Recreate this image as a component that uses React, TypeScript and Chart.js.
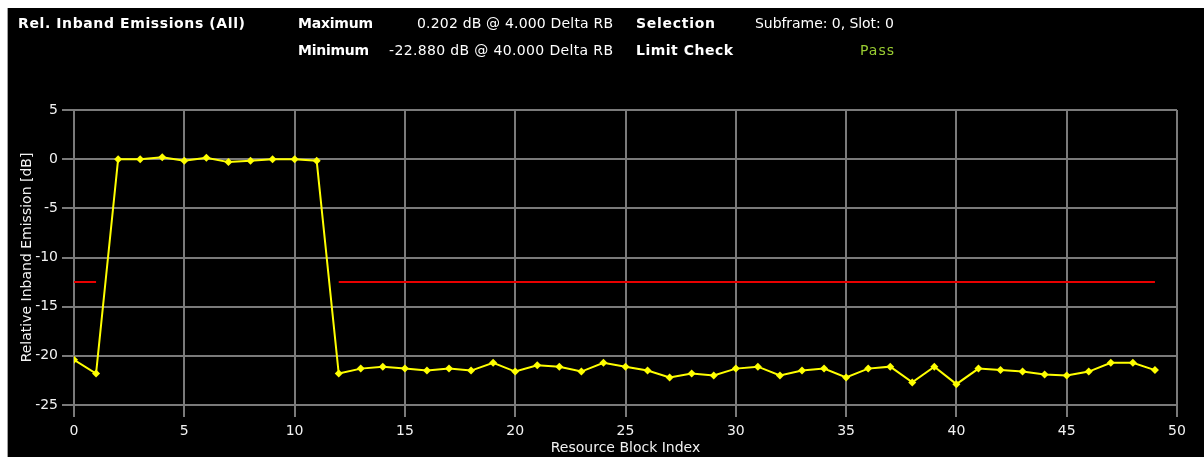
import React, { useEffect, useLayoutEffect, useRef } from "react";
import { Chart, registerables } from "chart.js";

Chart.register(...registerables);

// ---- Data ----
const rbIndex: number[] = [
  0, 1, 2, 3, 4, 5, 6, 7, 8, 9, 10, 11, 12, 13, 14, 15, 16, 17, 18, 19, 20, 21, 22, 23, 24,
  25, 26, 27, 28, 29, 30, 31, 32, 33, 34, 35, 36, 37, 38, 39, 40, 41, 42, 43, 44, 45, 46, 47, 48, 49,
];
const emission: number[] = [
  -20.4, -21.8, 0.0, 0.0, 0.202, -0.15, 0.15, -0.3, -0.15, 0.0, 0.0, -0.15, -21.8, -21.3, -21.1,
  -21.3, -21.5, -21.3, -21.5, -20.7, -21.6, -20.95, -21.1, -21.6, -20.7, -21.1, -21.5, -22.2, -21.8,
  -22.0, -21.3, -21.1, -22.0, -21.5, -21.3, -22.2, -21.3, -21.1, -22.7, -21.1, -22.88, -21.3, -21.45,
  -21.6, -21.9, -22.0, -21.6, -20.7, -20.7, -21.45,
];
const limitLine: (number | null)[] = [
  -12.5, -12.5, null, null, null, null, null, null, null, null, null, null, -12.5, -12.5, -12.5,
  -12.5, -12.5, -12.5, -12.5, -12.5, -12.5, -12.5, -12.5, -12.5, -12.5, -12.5, -12.5, -12.5, -12.5,
  -12.5, -12.5, -12.5, -12.5, -12.5, -12.5, -12.5, -12.5, -12.5, -12.5, -12.5, -12.5, -12.5, -12.5,
  -12.5, -12.5, -12.5, -12.5, -12.5, -12.5, -12.5,
];
const xTicks: number[] = [0, 5, 10, 15, 20, 25, 30, 35, 40, 45, 50];
const yTicks: number[] = [-25, -20, -15, -10, -5, 0, 5];

const headerTitle = "Rel. Inband Emissions (All)";
const maxLabel = "Maximum";
const maxValue = "0.202 dB @ 4.000 Delta RB";
const minLabel = "Minimum";
const minValue = "-22.880 dB @ 40.000 Delta RB";
const selLabel = "Selection";
const selValue = "Subframe: 0, Slot: 0";
const limLabel = "Limit Check";
const limValue = "Pass";

const FONT = '"DejaVu Sans", "Liberation Sans", sans-serif';
const GRID = "#7a7a7a";
const TEXT = "#f2f2f2";

type FitProps = { text: string; left: number; width: number; cy: number; bold?: boolean; color?: string };

function FitText({ text, left, width, cy, bold, color }: FitProps) {
  const ref = useRef<HTMLSpanElement>(null);
  useLayoutEffect(() => {
    const el = ref.current;
    if (!el) return;
    el.style.letterSpacing = "0px";
    const natural = el.getBoundingClientRect().width;
    const n = Math.max(1, text.length - 1);
    el.style.letterSpacing = (width - natural) / n + "px";
  }, [text, width]);
  return (
    <span
      ref={ref}
      style={{
        position: "absolute",
        left: left - 8,
        top: cy - 16,
        whiteSpace: "nowrap",
        font: `${bold ? "bold " : ""}14px ${FONT}`,
        lineHeight: "16px",
        color: color || "#ffffff",
      }}
    >
      {text}
    </span>
  );
}

export default function App() {
  const canvasRef = useRef<HTMLCanvasElement>(null);

  useEffect(() => {
    const canvas = canvasRef.current;
    if (!canvas) return;
    Chart.defaults.font.family = FONT;
    const chart = new Chart(canvas, {
      type: "line",
      data: {
        datasets: [
          {
            label: "Limit",
            data: rbIndex.map((x, i) => ({ x, y: limitLine[i] })) as any,
            borderColor: "#e80000",
            borderWidth: 2,
            pointRadius: 0,
            spanGaps: false,
            tension: 0,
          },
          {
            label: "Relative Inband Emission",
            data: rbIndex.map((x, i) => ({ x, y: emission[i] })),
            borderColor: "#ffff00",
            backgroundColor: "#ffff00",
            borderWidth: 2,
            pointStyle: "rectRot",
            pointRadius: 4,
            pointBorderWidth: 0,
            pointBackgroundColor: "#ffff00",
            tension: 0,
          },
        ],
      },
      options: {
        animation: false,
        responsive: false,
        devicePixelRatio: 1,
        layout: { padding: { top: 102, right: 27, bottom: 0, left: 0 } },
        plugins: { legend: { display: false }, tooltip: { enabled: false } },
        scales: {
          x: {
            type: "linear",
            min: 0,
            max: 50,
            afterFit: (s: any) => {
              s.height = 52;
            },
            afterBuildTicks: (s: any) => {
              s.ticks = xTicks.map((v) => ({ value: v }));
            },
            ticks: { color: TEXT, font: { size: 14 }, padding: 6, maxRotation: 0 },
            grid: { color: GRID, lineWidth: 2, tickLength: 12, tickColor: GRID },
            border: { color: GRID, width: 2 },
            title: {
              display: true,
              text: "Resource Block Index",
              color: TEXT,
              font: { size: 14 },
              padding: { top: 0, bottom: 0 },
            },
          },
          y: {
            type: "linear",
            min: -25,
            max: 5,
            afterFit: (s: any) => {
              s.width = 66;
            },
            afterBuildTicks: (s: any) => {
              s.ticks = yTicks.map((v) => ({ value: v }));
            },
            ticks: { color: TEXT, font: { size: 14 }, padding: 4 },
            grid: { color: GRID, lineWidth: 2, tickLength: 12, tickColor: GRID },
            border: { color: GRID, width: 2 },
            title: {
              display: true,
              text: "Relative Inband Emission [dB]",
              color: TEXT,
              font: { size: 14 },
              padding: { top: 11, bottom: 0 },
            },
          },
        },
      },
    });
    return () => chart.destroy();
  }, []);

  return (
    <div
      style={{
        position: "fixed",
        left: 7,
        top: 8,
        width: 1196,
        height: 449,
        background: "#000",
        borderLeft: "1px solid #a0a0a0",
        overflow: "hidden",
      }}
    >
      <canvas ref={canvasRef} width={1196} height={449} style={{ position: "absolute", left: 0, top: 0 }} />
      <FitText text={headerTitle} left={18} width={227} cy={23} bold />
      <FitText text={maxLabel} left={298} width={75} cy={23} bold />
      <FitText text={maxValue} left={417} width={196} cy={23} />
      <FitText text={selLabel} left={636} width={79} cy={23} bold />
      <FitText text={selValue} left={755} width={139} cy={23} />
      <FitText text={minLabel} left={298} width={71} cy={50} bold />
      <FitText text={minValue} left={389} width={224} cy={50} />
      <FitText text={limLabel} left={636} width={97} cy={50} bold />
      <FitText text={limValue} left={860} width={34} cy={50} color="#9acd32" />
    </div>
  );
}
